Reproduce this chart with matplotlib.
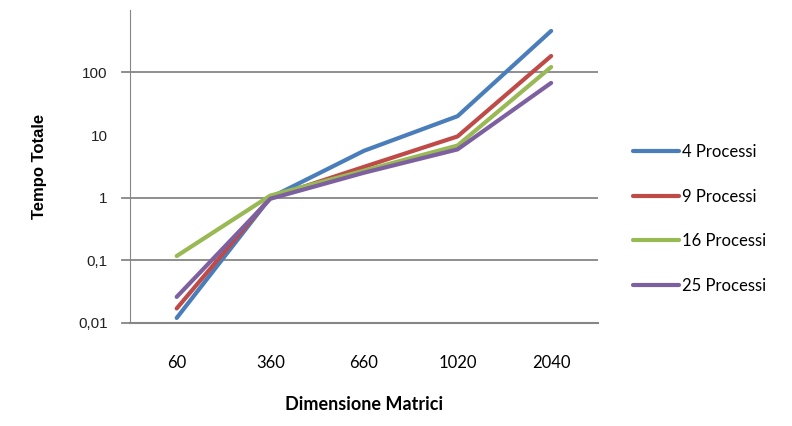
import matplotlib.pyplot as plt
from matplotlib.ticker import FixedLocator, FixedFormatter, NullLocator

# Dati
dimensioni = ['60', '360', '660', '1020', '2040']
serie = ['4 Processi', '9 Processi', '16 Processi', '25 Processi']
p4 = [0.012, 1.0, 5.6, 20, 460]
p9 = [0.017, 1.0, 3.1, 9.5, 183]
p16 = [0.117, 1.08, 2.7, 6.8, 122]
p25 = [0.026, 0.96, 2.5, 5.9, 68]
valori = [p4, p9, p16, p25]
colori = ['#4A7EBB', '#BE4B48', '#98B954', '#7D60A0']

fig = plt.figure(figsize=(7.92, 4.26), dpi=100)
ax = fig.add_axes([0.164, 0.242, 0.591, 0.735])

x = range(len(dimensioni))
for nome, v, c in zip(serie, valori, colori):
    ax.plot(x, v, color=c, linewidth=3, label=nome, solid_capstyle='round')

ax.set_yscale('log')
ax.set_ylim(0.01, 1000)
ax.set_xlim(-0.5, len(dimensioni) - 0.5)

# gridlines (the 10 line is not visible in the original)
for g in [0.1, 1, 100]:
    ax.axhline(g, color='#868686', linewidth=1.3, zorder=0)

ax.yaxis.set_major_locator(FixedLocator([0.01, 0.1, 1, 10, 100]))
ax.yaxis.set_major_formatter(FixedFormatter(['0,01', '0,1', '1', '10', '100']))
ax.yaxis.set_minor_locator(NullLocator())
ax.tick_params(axis='y', length=0, pad=16, labelsize=11, labelcolor='#222222')
for t in ax.get_yticklabels():
    t.set_family('Liberation Sans')
for g in [0.01, 0.1, 1, 100]:
    ax.plot([-0.585, -0.5], [g, g], color='#868686', linewidth=1.3, clip_on=False)

ax.set_xticks(list(x))
ax.set_xticklabels(dimensioni, family='Lato', fontsize=12)
ax.tick_params(axis='x', length=0, pad=23)

ax.spines['top'].set_visible(False)
ax.spines['right'].set_visible(False)
ax.spines['left'].set_color('#868686')
ax.spines['bottom'].set_color('#868686')
ax.spines['bottom'].set_linewidth(1.5)

ax.set_ylabel('Tempo Totale', family='Liberation Sans', fontweight='bold', fontsize=12, labelpad=22)
ax.set_xlabel('Dimensione Matrici', family='Lato', fontweight='bold', fontsize=13, labelpad=18)

fig.legend(loc='center left', bbox_to_anchor=(0.78, 0.486), frameon=False,
           prop={'family': 'Lato', 'size': 12}, handlelength=2.75, handletextpad=0.2,
           labelspacing=1.72)

fig.savefig('out.png', dpi=100)
